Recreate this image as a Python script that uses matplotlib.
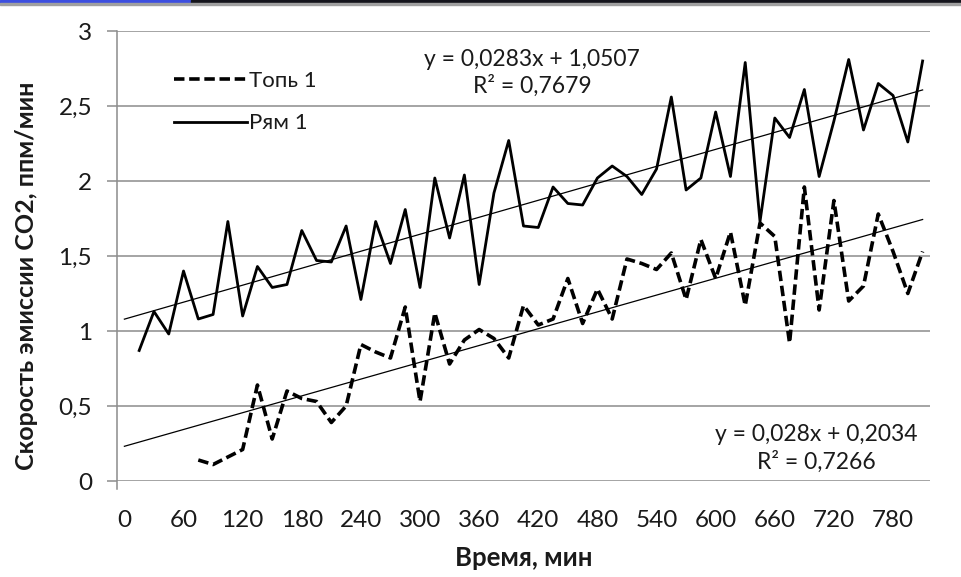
import matplotlib
matplotlib.use("Agg")
import matplotlib.pyplot as plt
from matplotlib.patches import Rectangle
import numpy as np

plt.rcParams["font.family"] = ["Lato", "DejaVu Sans"]

# sampling step 15 min, categories 0..810 min
step_min = 15
n_cat = 55
time_min = np.arange(n_cat) * step_min
tick_minutes = list(range(0, 781, 60))
tick_labels = [str(t) for t in tick_minutes]

# Рям 1: first category empty
ryam_start = 1
ryam_values = [
    0.87, 1.13, 0.98, 1.40, 1.08, 1.11, 1.73, 1.10, 1.43, 1.29,
    1.31, 1.67, 1.47, 1.46, 1.70, 1.21, 1.73, 1.45, 1.81, 1.29,
    2.02, 1.62, 2.04, 1.31, 1.92, 2.27, 1.70, 1.69, 1.96, 1.85,
    1.84, 2.02, 2.10, 2.03, 1.91, 2.08, 2.56, 1.94, 2.02, 2.46,
    2.03, 2.79, 1.73, 2.42, 2.29, 2.61, 2.03, 2.40, 2.81, 2.34,
    2.65, 2.57, 2.26, 2.80,
]

# Топь 1: first five categories empty
top_start = 5
top_values = [
    0.14, 0.11, 0.16, 0.21, 0.64, 0.28, 0.60, 0.55, 0.53, 0.39,
    0.50, 0.91, 0.86, 0.82, 1.16, 0.53, 1.12, 0.78, 0.94, 1.01,
    0.95, 0.82, 1.17, 1.04, 1.08, 1.35, 1.05, 1.28, 1.08, 1.48,
    1.45, 1.41, 1.52, 1.21, 1.61, 1.35, 1.66, 1.17, 1.72, 1.63,
    0.92, 1.96, 1.14, 1.87, 1.20, 1.30, 1.78, 1.53, 1.25, 1.53,
]

# linear trends, x = category number starting from 1
ryam_slope, ryam_icpt, ryam_r2 = 0.0283, 1.0507, 0.7679
top_slope, top_icpt, top_r2 = 0.028, 0.2034, 0.7266


def fmt(v, nd):
    return f"{v:.{nd}f}".replace(".", ",")


fig = plt.figure(figsize=(9.61, 5.77), dpi=100)
ax = fig.add_axes([117 / 961, 96 / 577, 813 / 961, 450 / 577])

ryam_x = time_min[ryam_start:ryam_start + len(ryam_values)]
top_x = time_min[top_start:top_start + len(top_values)]

ax.plot(top_x, top_values, color="black", lw=2.6, linestyle=(0, (2.9, 1.3)),
        label="Топь 1", zorder=3)
ax.plot(ryam_x, ryam_values, color="black", lw=2.0, label="Рям 1", zorder=3)

k = np.arange(n_cat) + 1
ax.plot(time_min, ryam_slope * k + ryam_icpt, color="black", lw=0.9, zorder=2)
ax.plot(time_min, top_slope * k + top_icpt, color="black", lw=0.9, zorder=2)

# trend equations
ax.text(414, 2.72, f"y = {fmt(ryam_slope, 4)}x + {fmt(ryam_icpt, 4)}\nR² = {fmt(ryam_r2, 4)}",
        ha="center", va="center", fontsize=16.5, linespacing=1.3, color="#1a1a1a")
ax.text(702, 0.215, f"y = {fmt(top_slope, 3)}x + {fmt(top_icpt, 4)}\nR² = {fmt(top_r2, 4)}",
        ha="center", va="center", fontsize=16.5, linespacing=1.3, color="#1a1a1a")

ax.set_xlim(-step_min / 2, (n_cat - 0.5) * step_min)
ax.set_ylim(0, 3)
ax.set_xticks(tick_minutes)
ax.set_xticklabels(tick_labels)
ax.set_yticks([0, 0.5, 1, 1.5, 2, 2.5, 3])
ax.set_yticklabels(["0", "0,5", "1", "1,5", "2", "2,5", "3"])

ax.grid(axis="y", color="#8c8c8c", lw=1.1)
ax.set_axisbelow(True)
for s in ("top", "right", "bottom"):
    ax.spines[s].set_visible(False)
ax.spines["left"].set_color("#8c8c8c")
ax.spines["left"].set_linewidth(1.1)
ax.spines["left"].set_bounds(-0.05, 3)
ax.tick_params(axis="y", length=7, width=1.1, color="#8c8c8c", labelsize=17.5,
               pad=11, labelcolor="#1a1a1a")
ax.tick_params(axis="x", length=0, labelsize=17.5, pad=21, labelcolor="#1a1a1a")

ax.set_xlabel("Время, мин", fontsize=18.5, fontweight="bold", labelpad=11,
              color="#1a1a1a")
ax.set_ylabel("Скорость эмиссии CO2, ппм/мин", fontsize=18, fontweight="bold",
              color="#1a1a1a")
ax.yaxis.set_label_coords(-0.097, 0.455)

leg = ax.legend(loc="upper left", bbox_to_anchor=(0.045, 0.955), frameon=False,
                fontsize=16, handlelength=3.3, handletextpad=0.1,
                labelspacing=1.0)
for t in leg.get_texts():
    t.set_color("#1a1a1a")

# header strip along the top edge
fig.patches.append(Rectangle((0, 1 - 3 / 577), 191 / 961, 3 / 577,
                             transform=fig.transFigure, color="#3d4fe0"))
fig.patches.append(Rectangle((191 / 961, 1 - 3 / 577), 1 - 191 / 961, 3 / 577,
                             transform=fig.transFigure, color="#15151c"))
fig.patches.append(Rectangle((0, 1 - 4.5 / 577), 1, 1.5 / 577,
                             transform=fig.transFigure, color="#a0a0a0"))

fig.savefig("out.png", dpi=100)
